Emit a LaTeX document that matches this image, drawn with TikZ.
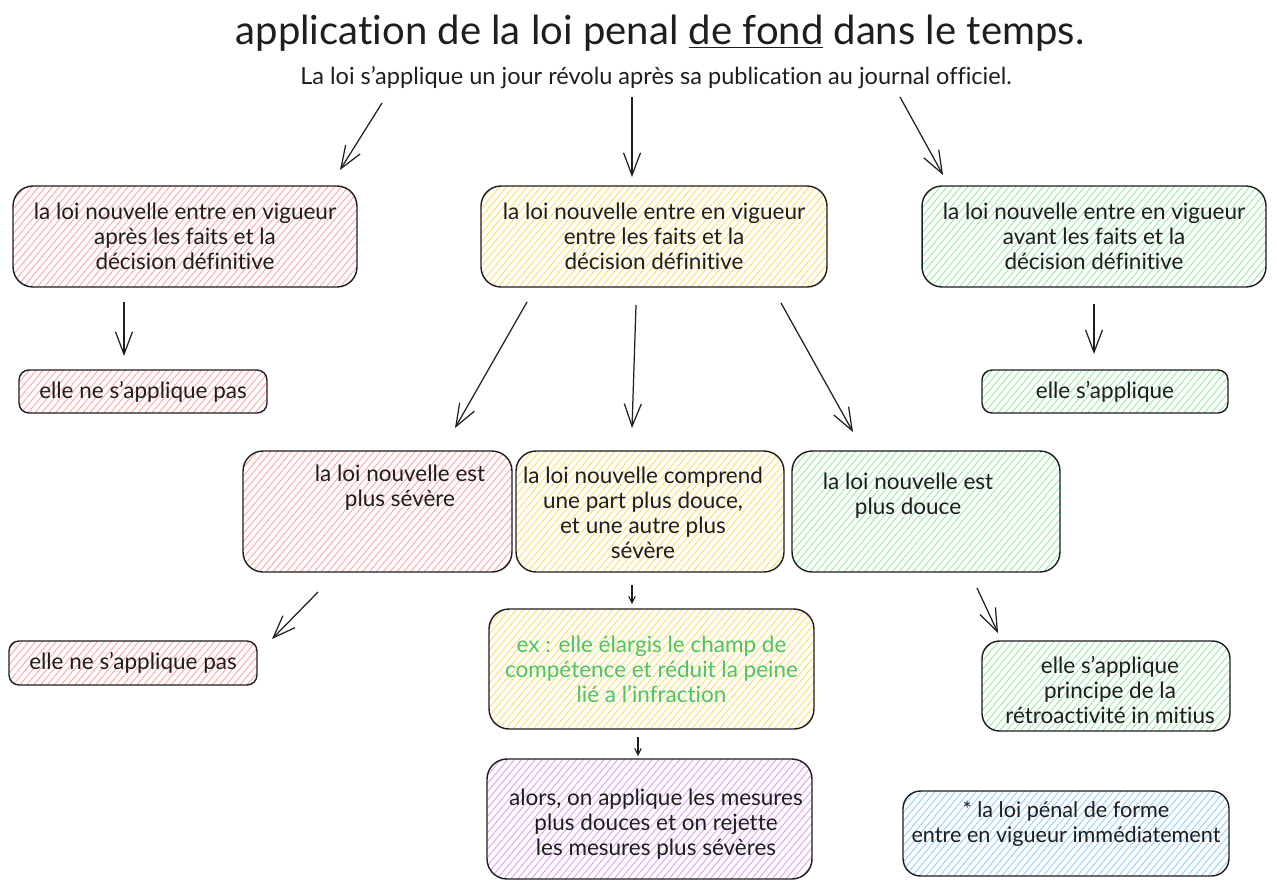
\documentclass[tikz,border=0pt]{standalone}
\usepackage{fontspec}
\setmainfont{Lato}[Ligatures={NoCommon,NoRequired,NoContextual}]
\usetikzlibrary{arrows.meta,patterns.meta}
\definecolor{ink}{HTML}{1E1E1E}
\definecolor{hred}{HTML}{FFA8A8}
\definecolor{hyel}{HTML}{FFDD70}
\definecolor{hgrn}{HTML}{9EE8AA}
\definecolor{hblu}{HTML}{98CFFF}
\definecolor{hpur}{HTML}{E2A2F4}
\definecolor{exgreen}{HTML}{4CC563}
\tikzset{
 box/.style={draw=ink, line width=0.8pt, rounded corners=0.4cm, outer sep=0pt, inner sep=0pt, align=center, text=ink, font=\fontsize{12.8}{14.2}\selectfont},
 smallbox/.style={box, rounded corners=0.2cm},
 hatch/.style={pattern={Lines[angle=50,distance=3pt,line width=0.55pt]}, pattern color=#1},
 arr/.style={draw=ink, line width=0.7pt, -{Straight Barb[length=0.45cm,width=0.34cm,line width=0.7pt]}},
 sarr/.style={draw=ink, line width=0.6pt, -{Straight Barb[length=0.13cm,width=0.13cm]}},
 lbl/.style={align=center, text=ink, inner sep=0pt, font=\fontsize{12.8}{14.2}\selectfont},
}
\begin{document}
\begin{tikzpicture}[x=0.02cm,y=-0.02cm]
\useasboundingbox[fill=white] (0,0) rectangle (1277,889);

% titles
\node[font=\fontsize{22.8}{26}\selectfont, text=ink] (title) at (660,33) {application de la loi penal \underline{de fond} dans le temps.};
\node[font=\fontsize{13.4}{15}\selectfont, text=ink] (sub) at (656,78) {La loi s’applique un jour révolu après sa publication au journal officiel.};

% first level
\node[box,hatch=hred,minimum width=6.88cm,minimum height=2.02cm] (b1) at (185,236.5) {la loi nouvelle entre en vigueur\\après les faits et la\\décision définitive};
\node[box,hatch=hyel,minimum width=6.92cm,minimum height=2.02cm] (b2) at (654,236.5) {la loi nouvelle entre en vigueur\\entre les faits et la\\décision définitive};
\node[box,hatch=hgrn,minimum width=6.88cm,minimum height=2.02cm] (b3) at (1094,236.5) {la loi nouvelle entre en vigueur\\avant les faits et la\\décision définitive};

\node[smallbox,hatch=hred,minimum width=4.96cm,minimum height=0.86cm] (b4) at (143,391.5) {elle ne s'applique pas};
\node[smallbox,hatch=hgrn,minimum width=4.92cm,minimum height=0.86cm] (b5) at (1105,391.5) {elle s'applique};

% second level
\node[box,hatch=hred,minimum width=5.38cm,minimum height=2.42cm] (b6) at (377.5,511.5) {};
\node[lbl] (t6) at (400,488) {la loi nouvelle est\\plus sévère};
\node[box,hatch=hyel,minimum width=5.36cm,minimum height=2.42cm] (b7) at (650,511.5) {};
\node[lbl] (t7) at (643,513) {la loi nouvelle comprend\\une part plus douce,\\et une autre plus\\sévère};
\node[box,hatch=hgrn,minimum width=5.36cm,minimum height=2.42cm] (b8) at (926,511.5) {};
\node[lbl] (t8) at (908,496) {la loi nouvelle est\\plus douce};

\node[smallbox,hatch=hred,minimum width=4.96cm,minimum height=0.88cm] (b9) at (133,663) {elle ne s'applique pas};
\node[box,hatch=hyel,minimum width=6.5cm,minimum height=2.4cm,text=exgreen] (b10) at (651.5,669) {ex : elle élargis le champ de\\compétence et réduit la peine\\lié a l’infraction};
\node[box,hatch=hpur,minimum width=6.5cm,minimum height=2.4cm] (b11) at (649.5,819) {};
\node[lbl] (t11) at (656,824) {alors, on applique les mesures\\plus douces et on rejette\\les mesures plus sévères};
\node[box,rounded corners=0.35cm,hatch=hgrn,minimum width=4.96cm,minimum height=1.8cm] (b12) at (1106,686) {};
\node[lbl] (t12) at (1110,690) {elle s’applique\\principe de la\\rétroactivité in mitius};
\node[box,rounded corners=0.35cm,hatch=hblu,minimum width=6.52cm,minimum height=1.7cm] (b13) at (1066,833.5) {};
\node[lbl,font=\fontsize{12.3}{14.2}\selectfont] (t13) at (1066,823.5) {* la loi pénal de forme\\entre en vigueur immédiatement};

% arrows
\draw[arr] ([shift={(-274,25)}]sub.center) -- ([shift={(155,-16)}]b1.north);
\draw[arr] ([shift={(-24,19)}]sub.center) -- ([shift={(-22,-9)}]b2.north);
\draw[arr] ([shift={(244,19)}]sub.center) -- ([shift={(-151,-11)}]b3.north);
\draw[arr] ([shift={(-61,15)}]b1.south) -- ([shift={(-19,-14)}]b4.north);
\draw[arr] ([shift={(0,17)}]b3.south) -- ([shift={(-11,-16)}]b5.north);
\draw[arr] ([shift={(-127,15)}]b2.south) -- ([shift={(77.5,-23)}]b6.north);
\draw[arr] ([shift={(-18,18)}]b2.south) -- ([shift={(-18,-23)}]b7.north);
\draw[arr] ([shift={(127,16)}]b2.south) -- ([shift={(-73,-19)}]b8.north);
\draw[arr] ([shift={(-59.5,20)}]b6.south) -- ([shift={(139,-2)}]b9.north);
\draw[sarr] ([shift={(-18,13)}]b7.south) -- ([shift={(-19.5,-5)}]b10.north);
\draw[sarr] ([shift={(-13.5,8)}]b10.south) -- ([shift={(-11.5,-3)}]b11.north);
\draw[arr] ([shift={(51,16)}]b8.south) -- ([shift={(-108,-8)}]b12.north);
\end{tikzpicture}
\end{document}
